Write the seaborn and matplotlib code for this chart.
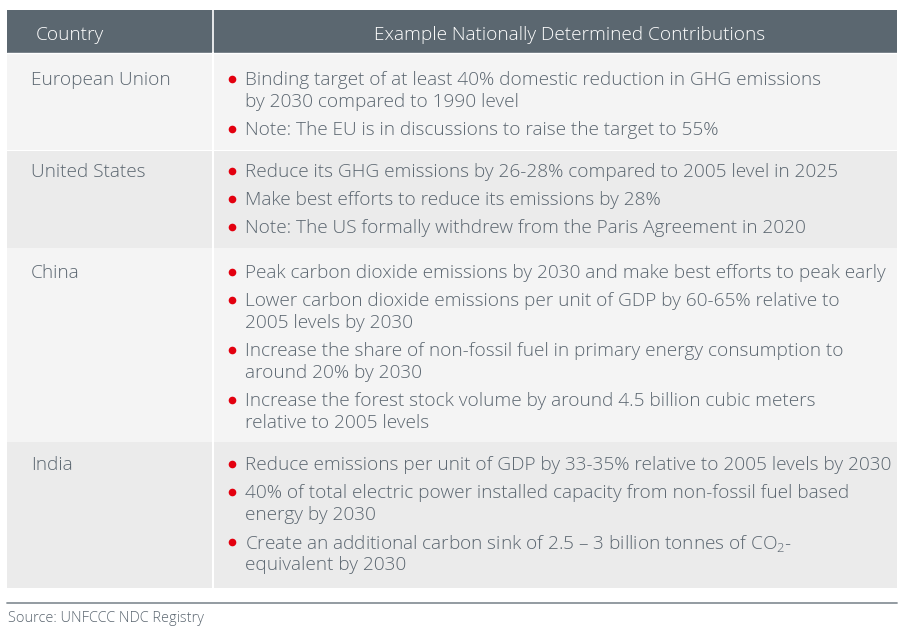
import matplotlib.pyplot as plt
import seaborn as sns
from matplotlib.patches import Rectangle

# ==================================
# TABLE CONTENT
# ==================================
header = ["Country", "Example Nationally Determined Contributions"]
countries = ["European Union", "United States", "China", "India"]
eu_points = [
    "Binding target of at least 40% domestic reduction in GHG emissions\nby 2030 compared to 1990 level",
    "Note: The EU is in discussions to raise the target to 55%",
]
us_points = [
    "Reduce its GHG emissions by 26-28% compared to 2005 level in 2025",
    "Make best efforts to reduce its emissions by 28%",
    "Note: The US formally withdrew from the Paris Agreement in 2020",
]
china_points = [
    "Peak carbon dioxide emissions by 2030 and make best efforts to peak early",
    "Lower carbon dioxide emissions per unit of GDP by 60-65% relative to\n2005 levels by 2030",
    "Increase the share of non-fossil fuel in primary energy consumption to\naround 20% by 2030",
    "Increase the forest stock volume by around 4.5 billion cubic meters\nrelative to 2005 levels",
]
india_points = [
    "Reduce emissions per unit of GDP by 33-35% relative to 2005 levels by 2030",
    "40% of total electric power installed capacity from non-fossil fuel based\nenergy by 2030",
    "Create an additional carbon sink of 2.5 \u2013 3 billion tonnes of CO$_2$-\nequivalent by 2030",
]
source = "Source: UNFCCC NDC Registry"

points = [eu_points, us_points, china_points, india_points]

# ==================================
# LAYOUT / STYLE
# ==================================
sns.set_theme(style="white")
plt.rcParams['font.family'] = ['Open Sans', 'DejaVu Sans']
plt.rcParams['mathtext.fontset'] = 'custom'
plt.rcParams['mathtext.rm'] = 'Open Sans:light'
plt.rcParams['mathtext.default'] = 'rm'

text_col = "#5b6670"
head_col = "#5b6770"
bullet_col = "#e3000f"
row_cols = ["#f4f4f4", "#ebebeb", "#f4f4f4", "#ebebeb"]
row_tops = [53, 151, 248, 442]
row_bots = [150, 248, 442, 588]
first_line = [80, 172, 273, 465]
line_h = 22
gap = 6
fs = 13.7
fw = "light"

fig = plt.figure(figsize=(9.04, 6.28), dpi=100)
ax = fig.add_axes([0, 0, 1, 1])
ax.set_xlim(0, 904)
ax.set_ylim(628, 0)
ax.axis("off")

left, right, split = 7, 897, 213

# header
ax.add_patch(Rectangle((left, 10), right - left, 43, color=head_col, lw=0))
ax.plot([split, split], [10, 53], color="white", lw=1.2)
ax.text(36, 35, header[0], color="white", fontsize=fs, fontweight=fw, va="center", ha="left")
ax.text(570, 35, header[1], color="white", fontsize=fs, fontweight=fw, va="center", ha="center")
ax.plot([left, right], [53, 53], color="white", lw=1)

for i, country in enumerate(countries):
    top, bot = row_tops[i], row_bots[i]
    ax.add_patch(Rectangle((left, top), right - left, bot - top, color=row_cols[i], lw=0))
    ax.plot([split, split], [top, bot], color="white", lw=1.5)
    ax.text(31, first_line[i], country, color=text_col, fontsize=fs, fontweight=fw,
            va="center", ha="left")
    y = first_line[i]
    for p in points[i]:
        n_lines = p.count("\n") + 1
        ax.plot(232, y - 1, "o", color=bullet_col, ms=5.5, mec="none")
        for j, ln in enumerate(p.split("\n")):
            ax.text(245, y + j * line_h, ln, color=text_col, fontsize=fs, fontweight=fw,
                    va="center", ha="left")
        y += n_lines * line_h + gap

# bottom rule and source
ax.plot([left, right], [603, 603], color="#8a939a", lw=1.3)
ax.text(8, 618, source, color=text_col, fontsize=10.45, fontweight=fw, va="center", ha="left")

fig.savefig("out.png", dpi=100)
